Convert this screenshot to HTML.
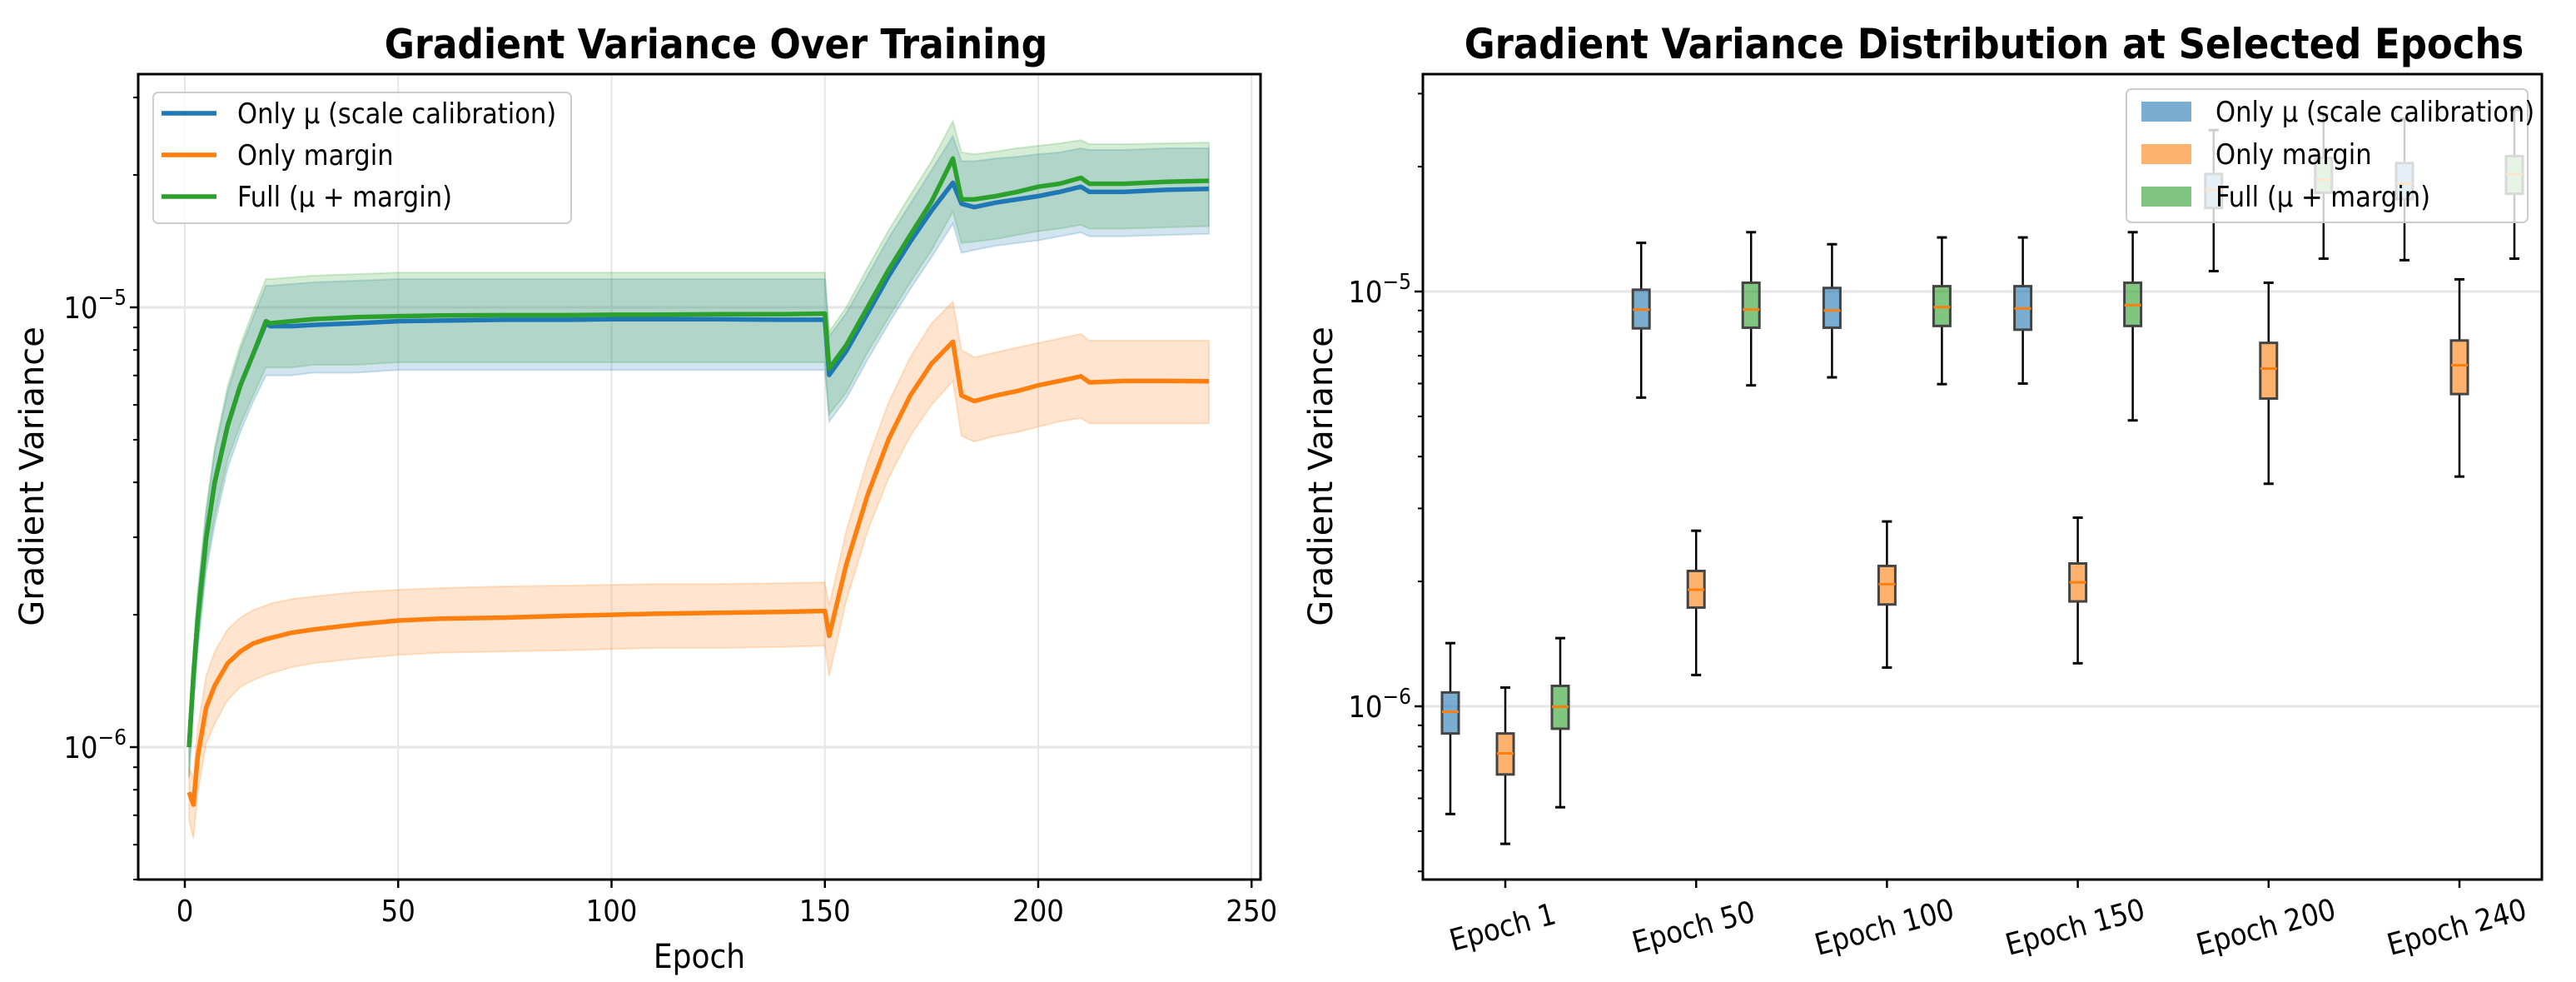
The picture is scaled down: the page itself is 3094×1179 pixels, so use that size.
<!DOCTYPE html>
<html><head><meta charset="utf-8"><style>
html,body{margin:0;padding:0;background:#fff;overflow:hidden;}
svg{display:block;font-family:"DejaVu Sans Condensed","Liberation Sans Narrow","Liberation Sans",sans-serif;}
</style></head><body>
<svg id="fig" width="3094" height="1179" viewBox="0 0 3094 1179" xmlns="http://www.w3.org/2000/svg">
<rect width="3094" height="1179" fill="#fff"/>
<g id="left"></g>
<g id="right"></g>
</svg>
<script>
// ---- Left chart data (values in units of 1e-6) ----
const epochs = [1,2,3,5,7,10,13,16,19,20,25,30,40,50,60,75,90,100,110,125,140,150,151,155,160,165,170,175,180,182,185,190,195,200,205,210,212,220,230,240];
const blueMean = [1.0,1.45,1.95,2.98,4.0,5.37,6.64,7.82,9.2,9.06,9.06,9.12,9.2,9.3,9.33,9.37,9.37,9.4,9.4,9.4,9.37,9.37,7.02,7.95,9.68,11.8,14.1,16.6,19.2,17.2,16.9,17.3,17.6,17.9,18.3,18.8,18.3,18.3,18.5,18.6];
const blueUpper = [1.05,1.6,2.2,3.4,4.7,6.4,8.0,9.5,11.2,11.2,11.3,11.4,11.5,11.6,11.6,11.6,11.6,11.6,11.6,11.6,11.6,11.6,8.6,9.7,11.8,14.4,17.2,20.5,24.5,21.5,21.5,21.8,22.0,22.3,22.5,23.0,22.8,22.8,23.0,23.0];
const blueLower = [0.85,1.25,1.65,2.5,3.2,4.3,5.2,6.1,7.0,7.0,7.0,7.1,7.1,7.2,7.2,7.2,7.2,7.2,7.2,7.2,7.2,7.2,5.5,6.2,7.6,9.2,11.0,13.0,15.5,13.3,13.5,13.8,14.0,14.2,14.5,14.8,14.5,14.5,14.6,14.7];
const greenMean = [1.0,1.45,1.95,2.98,4.0,5.37,6.64,7.82,9.3,9.2,9.3,9.4,9.5,9.55,9.58,9.6,9.6,9.62,9.62,9.65,9.65,9.68,7.26,8.2,10.0,12.2,14.6,17.4,21.8,17.6,17.6,17.9,18.3,18.8,19.1,19.7,19.1,19.1,19.3,19.4];
const greenUpper = [1.1,1.65,2.25,3.5,4.8,6.6,8.2,9.8,11.6,11.6,11.7,11.8,11.9,12.0,12.0,12.0,12.0,12.0,12.0,12.0,12.0,12.0,8.8,10.0,12.3,15.0,18.0,21.5,26.5,22.5,22.3,22.6,23.0,23.3,23.6,24.0,23.5,23.5,23.6,23.7];
const greenLower = [0.86,1.28,1.7,2.6,3.35,4.5,5.4,6.3,7.3,7.3,7.3,7.4,7.4,7.5,7.5,7.5,7.5,7.5,7.5,7.5,7.5,7.5,5.7,6.4,7.9,9.5,11.4,13.5,16.5,14.0,14.1,14.3,14.6,14.9,15.1,15.4,15.1,15.1,15.2,15.3];
const orangeMean = [0.79,0.74,0.95,1.23,1.38,1.55,1.65,1.72,1.76,1.77,1.82,1.85,1.9,1.94,1.96,1.97,1.99,2.0,2.01,2.02,2.03,2.04,1.79,2.6,3.74,5.03,6.3,7.45,8.35,6.3,6.12,6.3,6.45,6.65,6.8,6.97,6.75,6.8,6.8,6.79];
const orangeUpper = [0.9,0.85,1.1,1.45,1.65,1.85,1.97,2.05,2.1,2.12,2.17,2.2,2.25,2.28,2.3,2.32,2.33,2.34,2.35,2.35,2.36,2.37,2.1,3.1,4.5,6.1,7.7,9.2,10.3,8.0,7.7,7.9,8.1,8.3,8.5,8.7,8.4,8.4,8.4,8.4];
const orangeLower = [0.68,0.62,0.78,1.02,1.13,1.28,1.37,1.42,1.46,1.47,1.52,1.55,1.59,1.62,1.64,1.65,1.66,1.67,1.68,1.68,1.69,1.7,1.45,2.15,3.1,4.1,5.1,6.0,6.8,5.1,4.95,5.1,5.2,5.35,5.5,5.6,5.45,5.45,5.45,5.45];
const xTicks = [0,50,100,150,200,250];
// ---- Right chart data (values in units of 1e-6): [whiskerLow, q1, median, q3, whiskerHigh] ----
const categories = ["Epoch 1","Epoch 50","Epoch 100","Epoch 150","Epoch 200","Epoch 240"];
const boxBlue = [[0.55,0.86,0.97,1.08,1.42],[5.55,8.15,9.05,10.1,13.1],[6.21,8.18,9.0,10.2,13.0],[6.0,8.09,9.1,10.3,13.5],[11.2,15.9,17.6,19.2,24.5],[11.9,16.7,18.2,20.4,26.1]];
const boxOrange = [[0.466,0.685,0.77,0.86,1.11],[1.19,1.73,1.91,2.12,2.65],[1.24,1.76,1.97,2.18,2.79],[1.27,1.79,1.99,2.21,2.85],[3.44,5.52,6.52,7.52,10.5],[3.58,5.66,6.64,7.62,10.7]];
const boxGreen = [[0.571,0.883,0.997,1.12,1.46],[5.94,8.18,9.05,10.5,13.9],[5.98,8.26,9.17,10.3,13.5],[4.89,8.26,9.27,10.5,13.9],[12.0,17.3,18.6,21.0,26.7],[12.0,17.2,19.2,21.2,27.4]];

const NS="http://www.w3.org/2000/svg";
function mk(parent,tag,attrs,text){const e=document.createElementNS(NS,tag);for(const k in attrs)e.setAttribute(k,attrs[k]);if(text!==undefined)e.textContent=text;parent.appendChild(e);return e;}
const L=document.getElementById('left'), R=document.getElementById('right');
// axis functions
const lx=e=>222+e*5.125;
const ly=v=>369+528*(-5-Math.log10(v*1e-6));
const ry=v=>350+498*(-5-Math.log10(v*1e-6));
const rx=i=>1808+229.2*i;
const LX0=166,LX1=1514,TOP=89,BOT=1056,RX0=1709,RX1=3053;

// ---------- LEFT ----------
xTicks.forEach(t=>{const g=mk(L,'line',{x1:lx(t),x2:lx(t),y1:TOP,y2:BOT,stroke:'#e6e6e6','stroke-width':2});

});
[1,10].forEach(v=>{const g=mk(L,'line',{x1:LX0,x2:LX1,y1:ly(v),y2:ly(v),stroke:'#e6e6e6','stroke-width':3});

});
function band(up,lo,color,name){let d='';epochs.forEach((e,i)=>{d+=(i?'L':'M')+lx(e).toFixed(1)+','+ly(up[i]).toFixed(1);});
for(let i=epochs.length-1;i>=0;i--)d+='L'+lx(epochs[i]).toFixed(1)+','+ly(lo[i]).toFixed(1);
const p=mk(L,'path',{d:d+'Z',fill:color,'fill-opacity':0.2,stroke:color,'stroke-opacity':0.2,'stroke-width':2});

}
function line(m,color,name){const pts=epochs.map((e,i)=>lx(e).toFixed(1)+','+ly(m[i]).toFixed(1)).join(' ');
const p=mk(L,'polyline',{points:pts,fill:'none',stroke:color,'stroke-width':5.5,'stroke-linejoin':'round'});

}
band(blueUpper,blueLower,'#1f77b4','band-only-mu');
band(orangeUpper,orangeLower,'#ff7f0e','band-only-margin');
band(greenUpper,greenLower,'#2ca02c','band-full');
line(blueMean,'#1f77b4','line-only-mu');
line(orangeMean,'#ff7f0e','line-only-margin');
line(greenMean,'#2ca02c','line-full');
let f=mk(L,'rect',{x:LX0,y:TOP,width:LX1-LX0,height:BOT-TOP,fill:'none',stroke:'#000','stroke-width':3});

xTicks.forEach(t=>{mk(L,'line',{x1:lx(t),x2:lx(t),y1:BOT,y2:BOT+10,stroke:'#000','stroke-width':2.5});
const tx=mk(L,'text',{x:lx(t),y:1106,'text-anchor':'middle','font-size':36},String(t));

});
function minorTicks(P,yf,x0,vals){vals.forEach(v=>{mk(P,'line',{x1:x0-6,x2:x0,y1:yf(v),y2:yf(v),stroke:'#000','stroke-width':2});});}
minorTicks(L,ly,LX0,[0.5,0.6,0.7,0.8,0.9,2,3,4,5,6,7,8,9,20,30]);
function majorLabel(P,yf,x0,v,exp,name){mk(P,'line',{x1:x0-10,x2:x0,y1:yf(v),y2:yf(v),stroke:'#000','stroke-width':2.5});
const t=mk(P,'text',{x:x0-14,y:yf(v)+13,'text-anchor':'end','font-size':36});


mk(t,'tspan',{},'10');mk(t,'tspan',{dy:-16,'font-size':26},exp);}
majorLabel(L,ly,LX0,10,'−5','y-tick-label');
majorLabel(L,ly,LX0,1,'−6','y-tick-label');
let tt=mk(L,'text',{x:860,y:70,'text-anchor':'middle','font-size':49,'font-weight':'bold'},'Gradient Variance Over Training');

tt=mk(L,'text',{x:840,y:1162,'text-anchor':'middle','font-size':40},'Epoch');

tt=mk(L,'text',{x:0,y:0,'text-anchor':'middle','font-size':40,'font-family':'DejaVu Sans, sans-serif',transform:'translate(52,572) rotate(-90)'},'Gradient Variance');

let lg=mk(L,'rect',{x:184,y:111,width:502,height:157,rx:6,fill:'#fff','fill-opacity':0.8,stroke:'#cccccc','stroke-width':2});

[['#1f77b4','Only μ (scale calibration)'],['#ff7f0e','Only margin'],['#2ca02c','Full (μ + margin)']].forEach((d,i)=>{const y=136+i*50;
const g=mk(L,'g',{});


mk(g,'line',{x1:194,x2:260,y1:y,y2:y,stroke:d[0],'stroke-width':5.5});
mk(g,'text',{x:285,y:y+12,'font-size':34},d[1]);});

// ---------- RIGHT ----------
[1,10].forEach(v=>{const g=mk(R,'line',{x1:RX0,x2:RX1,y1:ry(v),y2:ry(v),stroke:'#e6e6e6','stroke-width':3});

});
function drawBox(stats,cx,color,name){const g=mk(R,'g',{});


const [lo,q1,md,q3,hi]=stats;
mk(g,'line',{x1:cx,x2:cx,y1:ry(hi),y2:ry(q3),stroke:'#000','stroke-width':2.5});
mk(g,'line',{x1:cx,x2:cx,y1:ry(q1),y2:ry(lo),stroke:'#000','stroke-width':2.5});
mk(g,'line',{x1:cx-6,x2:cx+6,y1:ry(hi),y2:ry(hi),stroke:'#000','stroke-width':3});
mk(g,'line',{x1:cx-6,x2:cx+6,y1:ry(lo),y2:ry(lo),stroke:'#000','stroke-width':3});
mk(g,'rect',{x:cx-10,y:ry(q3),width:20,height:ry(q1)-ry(q3),fill:color,'fill-opacity':0.6,stroke:'#444','stroke-width':3});
mk(g,'line',{x1:cx-10,x2:cx+10,y1:ry(md),y2:ry(md),stroke:'#ff7f0e','stroke-width':3});}
categories.forEach((c,i)=>{
drawBox(boxBlue[i],rx(i)-66,'#1f77b4','box-only-mu');
drawBox(boxOrange[i],rx(i),'#ff7f0e','box-only-margin');
drawBox(boxGreen[i],rx(i)+66,'#2ca02c','box-full');
mk(R,'line',{x1:rx(i),x2:rx(i),y1:BOT,y2:BOT+10,stroke:'#000','stroke-width':2.5});
const t=mk(R,'text',{x:0,y:0,'text-anchor':'middle','font-size':36,transform:`translate(${rx(i)},1125) rotate(-15)`},c);

});
f=mk(R,'rect',{x:RX0,y:TOP,width:RX1-RX0,height:BOT-TOP,fill:'none',stroke:'#000','stroke-width':3});

minorTicks(R,ry,RX0,[0.4,0.5,0.6,0.7,0.8,0.9,2,3,4,5,6,7,8,9,20,30]);
majorLabel(R,ry,RX0,10,'−5','y-tick-label');
majorLabel(R,ry,RX0,1,'−6','y-tick-label');
tt=mk(R,'text',{x:2395,y:70,'text-anchor':'middle','font-size':50,'font-weight':'bold'},'Gradient Variance Distribution at Selected Epochs');

tt=mk(R,'text',{x:0,y:0,'text-anchor':'middle','font-size':40,'font-family':'DejaVu Sans, sans-serif',transform:'translate(1600,572) rotate(-90)'},'Gradient Variance');

lg=mk(R,'rect',{x:2554,y:107,width:482,height:160,rx:6,fill:'#fff','fill-opacity':0.8,stroke:'#cccccc','stroke-width':2});

[['#1f77b4','Only μ (scale calibration)'],['#ff7f0e','Only margin'],['#2ca02c','Full (μ + margin)']].forEach((d,i)=>{const y=134+i*51;
const g=mk(R,'g',{});


mk(g,'rect',{x:2572,y:y-12,width:60,height:24,fill:d[0],'fill-opacity':0.6});
mk(g,'text',{x:2661,y:y+12,'font-size':34},d[1]);});
</script>
</body></html>
